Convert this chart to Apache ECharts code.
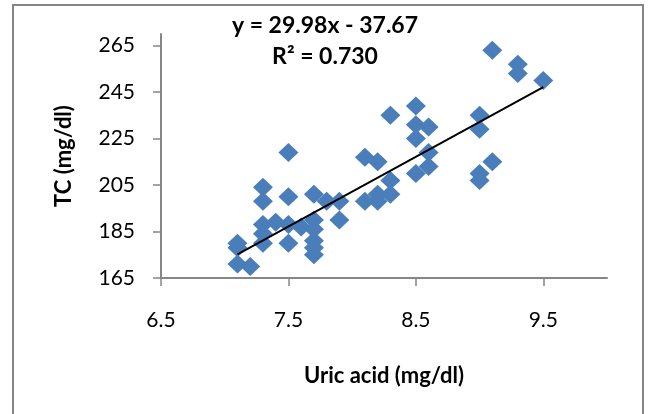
<!DOCTYPE html>
<html>
<head>
<meta charset="utf-8">
<script src="https://cdn.jsdelivr.net/npm/echarts@6/dist/echarts.min.js"></script>
<style>
  html, body { margin: 0; padding: 0; background: #fff; }
  #chart { width: 650px; height: 414px; }
</style>
</head>
<body>
<div id="chart"></div>
<script>
// uric acid (x) and TC (y)
var uricAcid = [
  7.1, 7.1, 7.1, 7.2,
  7.3, 7.3, 7.3, 7.3, 7.3, 7.4,
  7.5, 7.5, 7.5, 7.5, 7.6,
  7.7, 7.7, 7.7, 7.7, 7.7, 7.7, 7.8, 7.9, 7.9,
  8.1, 8.1, 8.2, 8.2, 8.2, 8.3, 8.3, 8.3,
  8.5, 8.5, 8.5, 8.5, 8.6, 8.6, 8.6,
  9.0, 9.0, 9.0, 9.0, 9.1, 9.1, 9.3, 9.3, 9.5
]
var totalChol = [
  180, 178, 171, 170,
  204, 198, 188, 184, 180, 189,
  219, 200, 188, 180, 187,
  201, 190, 186, 181, 178, 175, 198, 198, 190,
  217, 198, 215, 201, 198, 235, 207, 201,
  239, 231, 225, 210, 230, 219, 213,
  235, 229, 210, 207, 263, 215, 257, 253, 250
]
var xTicks = [6.5, 7.5, 8.5, 9.5]
var yTicks = [165, 185, 205, 225, 245, 265]
var slope = 29.98
var intercept = -37.67
var r2 = '0.730'

var points = uricAcid.map(function (x, i) { return [x, totalChol[i]] })
var xMin = Math.min.apply(null, uricAcid)
var xMax = Math.max.apply(null, uricAcid)
var trend = [[xMin, slope * xMin + intercept], [xMax, slope * xMax + intercept]]

var axisGrey = '#868686'
var font = 'Lato, "Open Sans", sans-serif'

var myChart = echarts.init(document.getElementById('chart'))
var option = {
  animation: false,
  grid: { left: 161, right: 43, top: 34, bottom: 136 },
  graphic: [
    {
      type: 'rect',
      shape: { x: 13, y: 5, width: 630, height: 460 },
      style: { fill: 'none', stroke: axisGrey, lineWidth: 2 },
      silent: true
    },
    {
      type: 'text', left: 'center', top: 14, x: 8,
      style: {
        text: 'y = ' + slope + 'x - ' + Math.abs(intercept),
        font: 'bold 23px ' + font, fill: '#000'
      }
    },
    {
      type: 'text', left: 'center', top: 45, x: 8,
      style: {
        text: 'R² = ' + r2,
        font: 'bold 23px ' + font, fill: '#000'
      }
    }
  ],
  xAxis: {
    type: 'value',
    min: 6.5,
    max: 10,
    name: 'Uric acid (mg/dl)',
    nameLocation: 'middle',
    nameGap: 87,
    nameTextStyle: { fontFamily: font, fontWeight: 'bold', fontSize: 22, color: '#000' },
    splitLine: { show: false },
    axisLine: { lineStyle: { color: axisGrey, width: 2 } },
    axisTick: { show: true, inside: false, length: 8, customValues: xTicks, lineStyle: { color: axisGrey, width: 1.5 } },
    axisLabel: { customValues: xTicks, margin: 32, fontFamily: font, fontSize: 21, color: '#000' }
  },
  yAxis: {
    type: 'value',
    min: 165,
    max: 270,
    name: 'TC (mg/dl)',
    nameLocation: 'middle',
    nameGap: 86,
    nameTextStyle: { fontFamily: font, fontWeight: 'bold', fontSize: 22, color: '#000' },
    splitLine: { show: false },
    axisLine: { show: true, lineStyle: { color: axisGrey, width: 2 } },
    axisTick: { show: true, inside: false, length: 8, customValues: yTicks, lineStyle: { color: axisGrey, width: 1.5 } },
    axisLabel: { customValues: yTicks, margin: 26, fontFamily: font, fontSize: 21, color: '#000' }
  },
  series: [
    {
      type: 'scatter',
      symbol: 'diamond',
      symbolSize: [20, 19],
      itemStyle: { color: '#4a7ebb', opacity: 1 },
      data: points,
      z: 2
    },
    {
      type: 'line',
      data: trend,
      symbol: 'none',
      lineStyle: { color: '#000', width: 2 },
      z: 3
    }
  ]
}
myChart.setOption(option)
</script>
</body>
</html>
